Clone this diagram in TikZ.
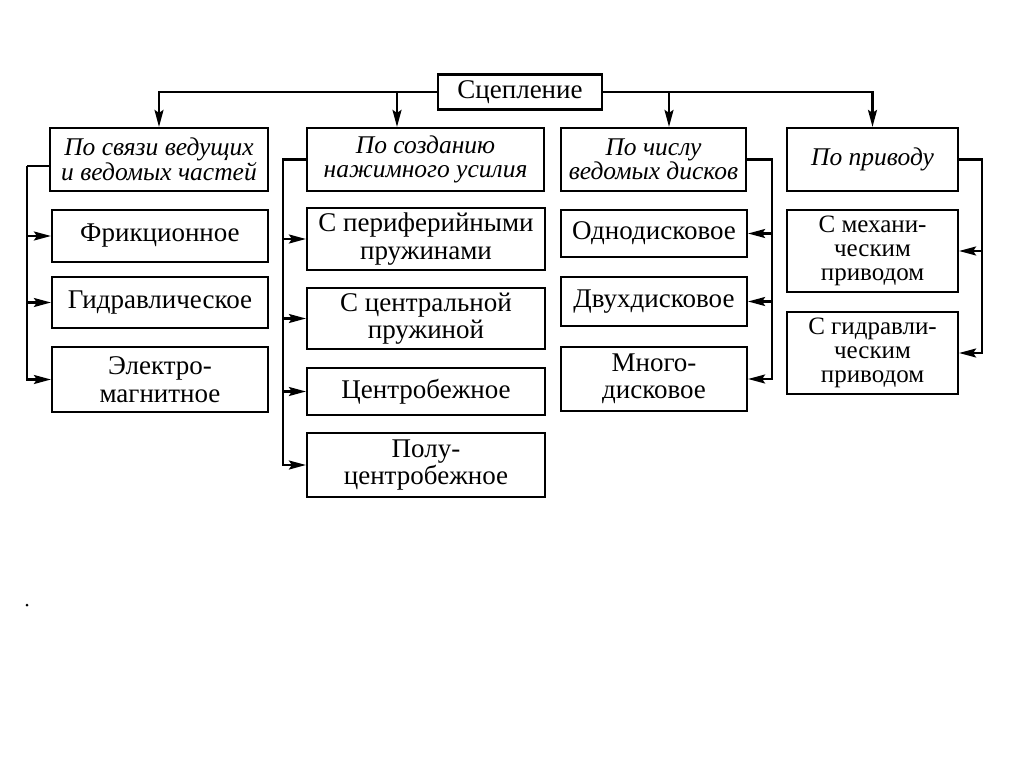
\documentclass[tikz,border=0pt]{standalone}
\usepackage{fontspec}
\setmainfont{Liberation Serif}
\usetikzlibrary{arrows.meta}
\begin{document}
\begin{tikzpicture}[x=1pt,y=-1pt,
  box/.style={draw, line width=2.2pt, inner sep=0pt, align=center,
    font=\fontsize{27}{27.5}\selectfont},
  head/.style={box, font=\fontsize{25.5}{24.5}\selectfont\itshape},
  tight/.style={box, font=\fontsize{25}{24}\selectfont},
  ln/.style={line width=2.2pt},
  arr/.style={line width=2.2pt, -{Stealth[length=17pt,width=9pt,inset=3pt]}}]
\useasboundingbox[fill=white] (0,0) rectangle (1024,767);

% top
\node[box, minimum width=164pt, minimum height=35pt] (top) at (520,92) {Сцепление};

% categories
\node[head, minimum width=218pt, minimum height=63pt] (c1) at (159,159.5) {По связи ведущих\\и ведомых частей};
\node[head, minimum width=237pt, minimum height=63pt] (c2) at (425.5,159.5) {По созданию\\нажимного усилия};
\node[head, minimum width=185pt, minimum height=63pt] (c3) at (653.5,159.5) {По числу\\ведомых дисков};
\node[head, minimum width=171pt, minimum height=63pt] (c4) at (872.5,159.5) {По приводу};

% column 1
\node[box, minimum width=216pt, minimum height=52pt] (f1) at (160,236) {Фрикционное};
\node[box, minimum width=216pt, minimum height=51pt] (f2) at (160,302.5) {Гидравлическое};
\node[box, minimum width=216pt, minimum height=65pt] (f3) at (160,379.5) {Электро-\\магнитное};

% column 2
\node[box, minimum width=238pt, minimum height=62pt] (p1) at (426,239) {С периферийными\\пружинами};
\node[box, minimum width=238pt, minimum height=61pt] (p2) at (426,318.5) {С центральной\\пружиной};
\node[box, minimum width=238pt, minimum height=47pt] (p3) at (426,391.5) {Центробежное};
\node[box, minimum width=238pt, minimum height=64pt] (p4) at (426,465) {Полу-\\центробежное};

% column 3
\node[box, minimum width=186pt, minimum height=47pt] (d1) at (654,233.5) {Однодисковое};
\node[box, minimum width=186pt, minimum height=49pt] (d2) at (654,301.5) {Двухдисковое};
\node[box, minimum width=186pt, minimum height=64pt] (d3) at (654,379) {Много-\\дисковое};

% column 4
\node[tight, minimum width=171pt, minimum height=82pt] (m1) at (872.5,251) {С механи-\\ческим\\приводом};
\node[tight, minimum width=171pt, minimum height=82pt] (m2) at (872.5,353) {С гидравли-\\ческим\\приводом};

% top connectors
\coordinate (j2) at (397,92);
\coordinate (j3) at (669,92);
\draw[arr] (top.west) -| (c1.north);
\draw[arr] (top.east) -| (c4.north);
\draw[arr] (j2) -- (j2 |- c2.north);
\draw[arr] (j3) -- (j3 |- c3.north);

% column 1 connectors
\coordinate (v1) at (27,166);
\draw[ln] (c1.west |- v1) -- (v1);
\draw[arr] (v1) |- (f3.west);
\draw[arr] (v1 |- f1.west) -- (f1.west);
\draw[arr] (v1 |- f2.west) -- (f2.west);

% column 2 connectors
\coordinate (v2) at (283,0);
\draw[arr] (c2.west) -- (v2 |- c2.west) |- (p4.west);
\draw[arr] (v2 |- p1.west) -- (p1.west);
\draw[arr] (v2 |- p2.west) -- (p2.west);
\draw[arr] (v2 |- p3.west) -- (p3.west);

% column 3 connectors
\coordinate (v3) at (772,0);
\draw[arr] (c3.east) -- (v3 |- c3.east) |- (d3.east);
\draw[arr] (v3 |- d1.east) -- (d1.east);
\draw[arr] (v3 |- d2.east) -- (d2.east);

% column 4 connectors
\coordinate (v4) at (982,0);
\draw[arr] (c4.east) -- (v4 |- c4.east) |- (m2.east);
\draw[arr] (v4 |- m1.east) -- (m1.east);

% stray dot
\fill (27,605) circle (1.5pt);
\end{tikzpicture}
\end{document}
